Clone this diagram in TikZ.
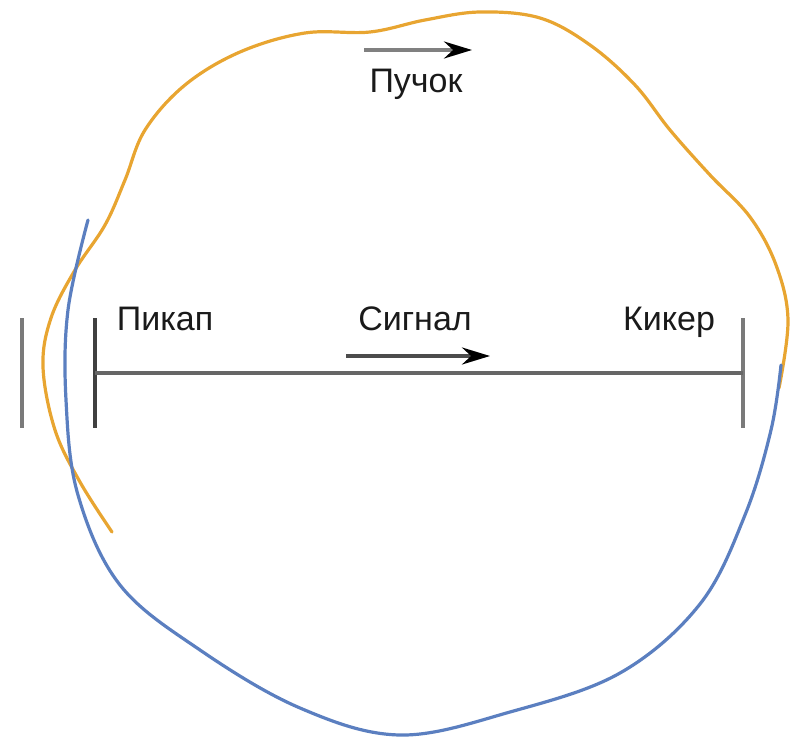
\documentclass[tikz,border=0pt]{standalone}
\usepackage{fontspec}
\setmainfont{Liberation Sans}
\usetikzlibrary{arrows.meta}
\definecolor{beamorange}{HTML}{E8A531}
\definecolor{sigblue}{HTML}{5B7FC0}
\definecolor{bargray}{HTML}{7A7A7A}
\definecolor{txtdark}{HTML}{1A1A1A}
\begin{document}
\begin{tikzpicture}[x=1pt, y=-1pt, >={Stealth[length=28pt, width=17pt, color=black]},
	label/.style={anchor=base, text=txtdark, font=\fontsize{34}{40}\selectfont, inner sep=0pt},
	bar/.style={line width=3.4pt, bargray},
	orbit/.style={line width=3.2pt, line cap=round},
	move/.style={->, line width=3.4pt, gray}]
	\useasboundingbox (0,0) rectangle (810,738);

	% --- 1. orbit of the beam (orange) ---
	\draw[orbit, beamorange] plot[smooth, tension=0.6] coordinates {
		(112,532) (80,482) (55,430) (43,367) (51,318) (75,270) (105,225) (125,180)
		(145,130) (185,85) (240,52) (305,33) (370,32) (425,20) (480,12)
		(540,18) (590,45) (635,85) (670,130) (710,175) (750,217)
		(776,265) (788,320) (779,388)};

	% --- 2. path of the signal (blue) ---
	\draw[orbit, sigblue] plot[smooth, tension=0.6] coordinates {
		(88,220) (68,310) (66,400) (78,495) (120,585) (200,650) (300,708)
		(400,735) (510,712) (620,673) (700,604) (745,515) (771,430) (781,365)};

	% --- 3. bars and the line between them ---
	\coordinate (Otop) at (22,318);   \coordinate (Obot) at (22,428);
	\coordinate (Ptop) at (95,318);   \coordinate (Pbot) at (95,428);
	\coordinate (Ktop) at (743,318);  \coordinate (Kbot) at (743,428);
	\coordinate (P) at (95,373);      \coordinate (K) at (743,373);
	\draw[bar] (Otop) -- (Obot);
	\draw[bar, black!75] (Ptop) -- (Pbot);
	\draw[bar] (Ktop) -- (Kbot);
	\draw[line width=3.2pt, black!60] (P) -- (K);

	% --- 4. labels ---
	\node[label] (pickup) at (165,330) {Пикап};
	\node[label] (signal) at (415,330) {Сигнал};
	\node[label] (kicker) at (669,330) {Кикер};
	\node[label] (beam)   at (416,93)  {Пучок};

	% --- 5. arrows of motion ---
	\coordinate (Bs) at (364,50);  \coordinate (Be) at (472,50);
	\coordinate (Ss) at (346,356); \coordinate (Se) at (490,356);
	\draw[move] (Bs) -- (Be);
	\draw[move, black!70] (Ss) -- (Se);
\end{tikzpicture}
\end{document}
